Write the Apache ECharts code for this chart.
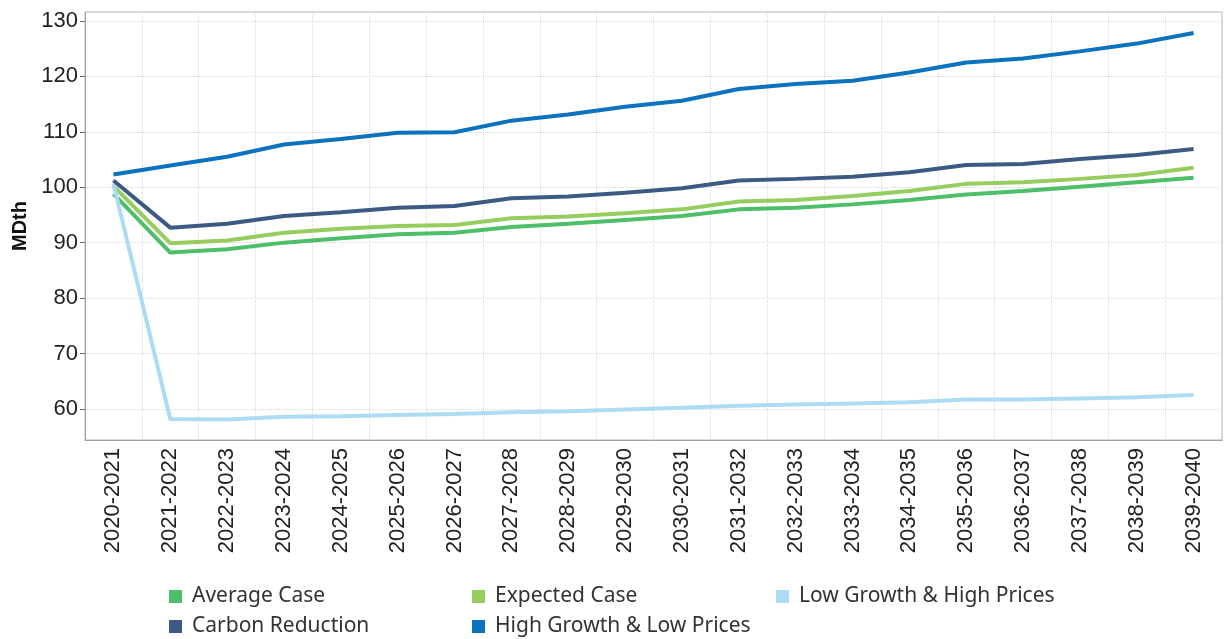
<!DOCTYPE html>
<html>
<head>
<meta charset="utf-8">
<script src="https://cdn.jsdelivr.net/npm/echarts@6/dist/echarts.min.js"></script>
<style>
  html, body { margin: 0; padding: 0; background: #fff; }
  #chart { width: 1224px; height: 639px; }
</style>
</head>
<body>
<div id="chart"></div>
<script>
// data
const years = ["2020-2021", "2021-2022", "2022-2023", "2023-2024", "2024-2025",
  "2025-2026", "2026-2027", "2027-2028", "2028-2029", "2029-2030", "2030-2031",
  "2031-2032", "2032-2033", "2033-2034", "2034-2035", "2035-2036", "2036-2037",
  "2037-2038", "2038-2039", "2039-2040"];
const averageCase = [98.8, 88.2, 88.8, 90.0, 90.8, 91.5, 91.8, 92.8, 93.4, 94.1,
  94.8, 96.0, 96.3, 96.9, 97.7, 98.7, 99.3, 100.1, 100.9, 101.7];
const expectedCase = [100.2, 89.9, 90.4, 91.8, 92.5, 93.0, 93.2, 94.4, 94.7, 95.3,
  96.0, 97.4, 97.7, 98.4, 99.3, 100.6, 100.9, 101.5, 102.2, 103.5];
const lowGrowth = [100.6, 58.2, 58.1, 58.6, 58.7, 58.9, 59.1, 59.4, 59.6, 59.9,
  60.2, 60.6, 60.8, 61.0, 61.2, 61.7, 61.7, 61.9, 62.1, 62.5];
const carbonReduction = [101.2, 92.7, 93.4, 94.8, 95.5, 96.3, 96.6, 98.0, 98.3, 99.0,
  99.8, 101.2, 101.5, 101.9, 102.7, 104.0, 104.2, 105.1, 105.8, 106.9];
const highGrowth = [102.3, 103.9, 105.5, 107.7, 108.7, 109.8, 109.9, 112.0, 113.1, 114.5,
  115.6, 117.7, 118.6, 119.2, 120.7, 122.5, 123.2, 124.5, 125.9, 127.8];
const yTicks = [60, 70, 80, 90, 100, 110, 120, 130];

const names = ["Average Case", "Expected Case", "Low Growth & High Prices",
  "Carbon Reduction", "High Growth & Low Prices"];
const colors = ["#4cbf68", "#97cc5e", "#acdcf4", "#3d5a85", "#0b72c0"];
const values = [averageCase, expectedCase, lowGrowth, carbonReduction, highGrowth];

// legend laid out as 3 columns x 2 rows, one legend per item
const legendSpots = [[164, 581], [467, 581], [771, 581], [164, 611], [467, 611]];
const legendText = { fontFamily: "Noto Sans", fontSize: 21, color: "#333", padding: [0, 0, 0, 5] };

const axisFont = "Liberation Sans, Arial, sans-serif";

const chart = echarts.init(document.getElementById("chart"), null, { renderer: "canvas" });
chart.setOption({
  animation: false,
  color: colors,
  grid: {
    left: 85, right: 2, top: 12, bottom: 199,
    show: true, borderColor: "#b5b5b5", borderWidth: 1
  },
  legend: names.map((n, i) => ({
    left: legendSpots[i][0], top: legendSpots[i][1],
    itemWidth: 13, itemHeight: 13, icon: "rect", itemGap: 0,
    textStyle: legendText, data: [n]
  })),
  xAxis: {
    type: "category",
    data: years,
    boundaryGap: true,
    axisLine: { lineStyle: { color: "#a0a0a0", width: 1 } },
    axisTick: { interval: 0, length: 5, lineStyle: { color: "#666" } },
    axisLabel: {
      interval: 0, rotate: 90, margin: 8,
      fontFamily: axisFont, fontSize: 22, color: "#222"
    },
    splitLine: { show: true, interval: 0, lineStyle: { color: "#d8d8d8", type: "dotted" } }
  },
  yAxis: {
    type: "value",
    min: 54.4, max: 131.6,
    name: "MDth",
    nameLocation: "middle",
    nameGap: 54,
    nameTextStyle: { fontFamily: axisFont, fontSize: 20, fontWeight: "bold", color: "#111" },
    axisLine: { show: true, lineStyle: { color: "#a0a0a0", width: 1 } },
    axisTick: { show: true, length: 5, customValues: yTicks, lineStyle: { color: "#666" } },
    axisLabel: {
      customValues: yTicks, margin: 7,
      fontFamily: axisFont, fontSize: 22, color: "#222"
    },
    splitLine: { show: true, lineStyle: { color: "#d8d8d8", type: "dotted" } }
  },
  series: names.map((n, i) => ({
    name: n,
    type: "line",
    data: values[i],
    showSymbol: false,
    symbol: "none",
    lineStyle: { width: 4, color: colors[i] },
    itemStyle: { color: colors[i] }
  }))
});
</script>
</body>
</html>
